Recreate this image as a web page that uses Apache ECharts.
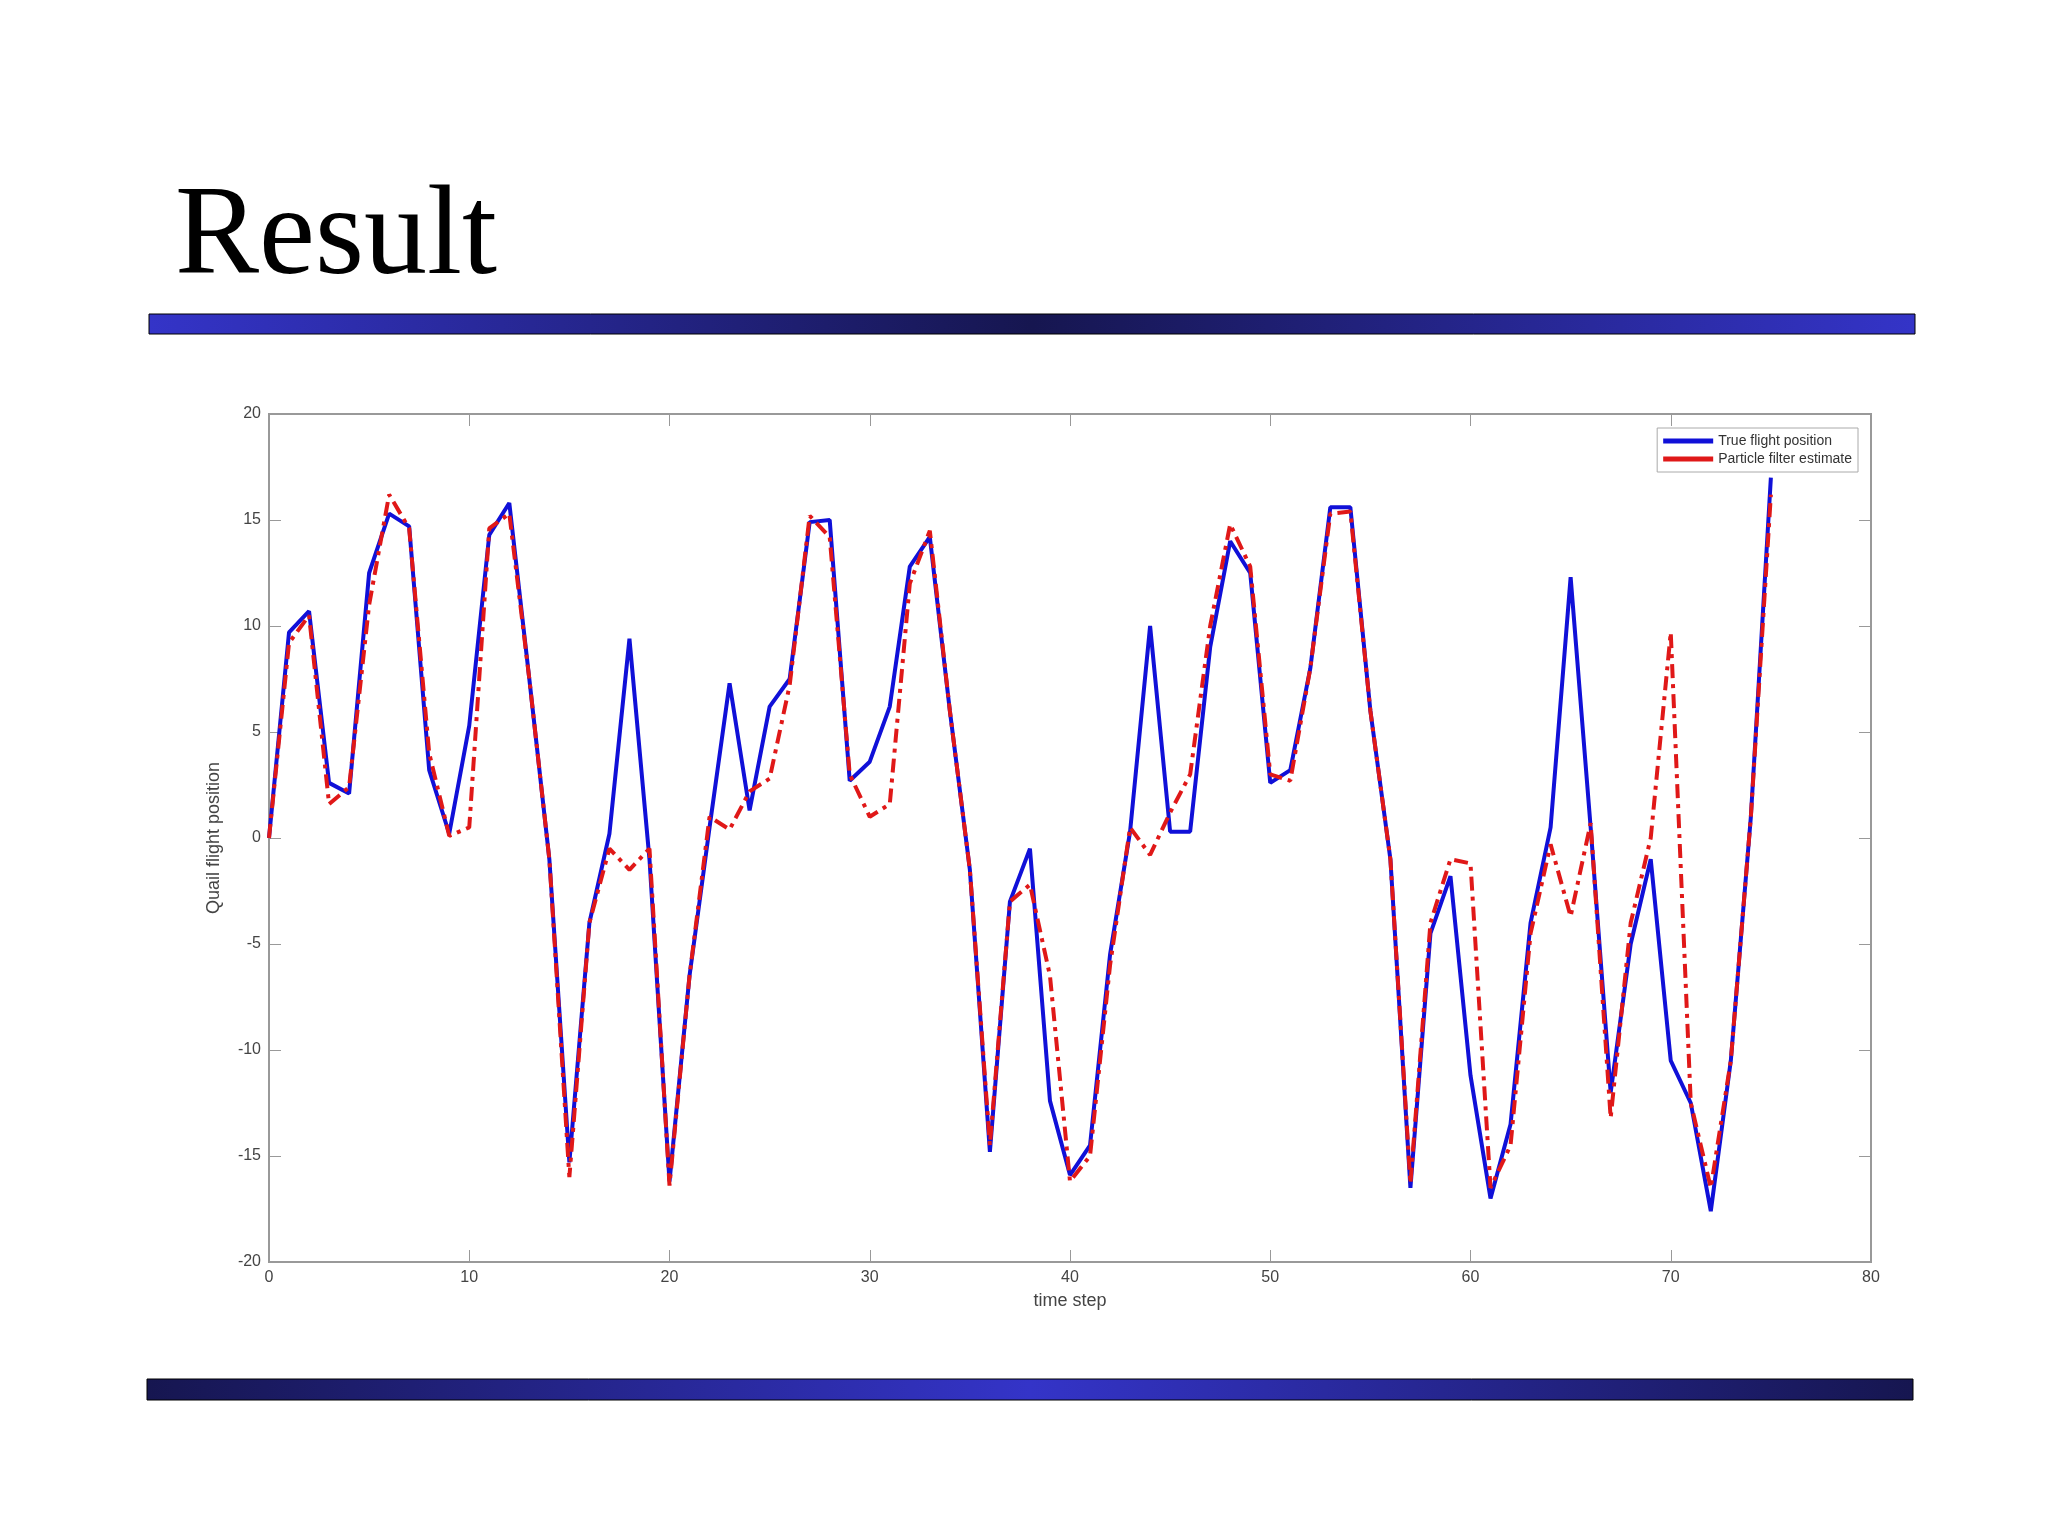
<!DOCTYPE html>
<html><head><meta charset="utf-8">
<script src="https://cdn.jsdelivr.net/npm/echarts@6/dist/echarts.min.js"></script>
<style>html,body{margin:0;padding:0;background:#fff}#c{width:2048px;height:1536px}</style>
</head><body><div id="c"></div>
<script>
const steps = Array.from({length:76},(_, i)=>i);
const truePos = [0,9.7,10.7,2.6,2.1,12.5,15.3,14.7,3.2,0.2,5.3,14.3,15.8,7.5,-1.0,-15.3,-4.0,0.2,9.4,-1.0,-16.2,-6.5,0.5,7.3,1.3,6.2,7.5,14.9,15.0,2.7,3.6,6.2,12.8,14.2,6.0,-1.5,-14.8,-3.0,-0.5,-12.4,-15.9,-14.5,-5.5,0.3,10.0,0.3,0.3,9.0,14.0,12.5,2.6,3.2,8.0,15.6,15.6,6.0,-1.0,-16.5,-4.5,-1.8,-11.2,-17.0,-13.5,-4.0,0.5,12.3,0.5,-12.0,-5.0,-1.0,-10.5,-12.5,-17.6,-10.5,1.0,17.0];
const pfEst = [0,9.2,10.5,1.6,2.4,11.0,16.2,14.6,4.0,0.1,0.5,14.6,15.3,7.5,-1.0,-16.0,-4.0,-0.5,-1.5,-0.5,-16.4,-6.5,1.0,0.4,2.2,2.8,7.2,15.2,14.2,3.0,1.0,1.6,12.0,14.5,6.0,-1.5,-14.5,-3.0,-2.2,-6.5,-16.2,-15.0,-6.0,0.5,-0.8,1.2,3.0,10.0,14.8,12.8,3.0,2.7,8.0,15.3,15.4,6.0,-1.0,-16.3,-4.0,-1.0,-1.2,-16.5,-14.5,-4.5,-0.3,-3.7,0.7,-13.2,-4.0,0.0,9.7,-12.5,-16.5,-10.5,1.0,16.2];
const seriesNames = ['True flight position','Particle filter estimate'];

const ch = echarts.init(document.getElementById('c'));
const gray = '#999';
const gEnd = '#3434c8', gMid = '#161650';
const tick = {inside:true,length:12,lineStyle:{color:gray}};
const line = {onZero:false,lineStyle:{color:gray,width:2}};
ch.setOption({
  animation:false,
  title:{text:'Result',left:170,top:172,textStyle:{fontFamily:'Liberation Serif',fontSize:126,fontWeight:'normal',color:'#000'}},
  graphic:[
    {type:'rect',shape:{x:149,y:314,width:1766,height:20},style:{stroke:'#000',lineWidth:1,fill:{type:'linear',x:0,y:0,x2:1,y2:0,colorStops:[{offset:0,color:gEnd},{offset:0.5,color:gMid},{offset:1,color:gEnd}]}}},
    {type:'rect',shape:{x:147,y:1379,width:1766,height:21},style:{stroke:'#000',lineWidth:1,fill:{type:'linear',x:0,y:0,x2:1,y2:0,colorStops:[{offset:0,color:gMid},{offset:0.5,color:gEnd},{offset:1,color:gMid}]}}}
  ],
  legend:{right:190,top:428,orient:'vertical',itemWidth:50,itemHeight:6,itemGap:4,padding:[6,6],
    backgroundColor:'#fff',borderColor:'#aaa',borderWidth:1,
    textStyle:{fontFamily:'Liberation Sans',fontSize:14,color:'#333'},
    data:seriesNames.map(n=>({name:n,icon:'path://M0,0H10V1H0Z'}))},
  grid:{left:269,right:177,top:414,height:848,show:true,borderColor:gray,borderWidth:2},
  xAxis:[{type:'value',min:0,max:80,interval:10,name:'time step',nameLocation:'middle',nameGap:30,
    nameTextStyle:{fontFamily:'Liberation Sans',fontSize:18,color:'#444'},
    axisLine:line,axisTick:tick,
    axisLabel:{fontFamily:'Liberation Sans',fontSize:16,color:'#444'},splitLine:{show:false}},
    {type:'value',position:'top',min:0,max:80,interval:10,axisLine:line,
    axisTick:tick,axisLabel:{show:false},splitLine:{show:false}}],
  yAxis:[{type:'value',min:-20,max:20,interval:5,name:'Quail flight position',nameLocation:'middle',nameGap:46,
    nameTextStyle:{fontFamily:'Liberation Sans',fontSize:18,color:'#444'},
    axisLine:line,axisTick:tick,
    axisLabel:{fontFamily:'Liberation Sans',fontSize:16,color:'#444'},splitLine:{show:false}},
    {type:'value',position:'right',min:-20,max:20,interval:5,axisLine:line,
    axisTick:tick,axisLabel:{show:false},splitLine:{show:false}}],
  series:[
    {name:seriesNames[0],type:'line',showSymbol:false,color:'#1010d8',lineStyle:{width:4,color:'#1010d8'},
     data:steps.map((s,i)=>[s,truePos[i]])},
    {name:seriesNames[1],type:'line',showSymbol:false,color:'#e01818',lineStyle:{width:4,color:'#e01818',type:[14,6,4,6]},
     data:steps.map((s,i)=>[s,pfEst[i]])}
  ]
});
</script></body></html>
